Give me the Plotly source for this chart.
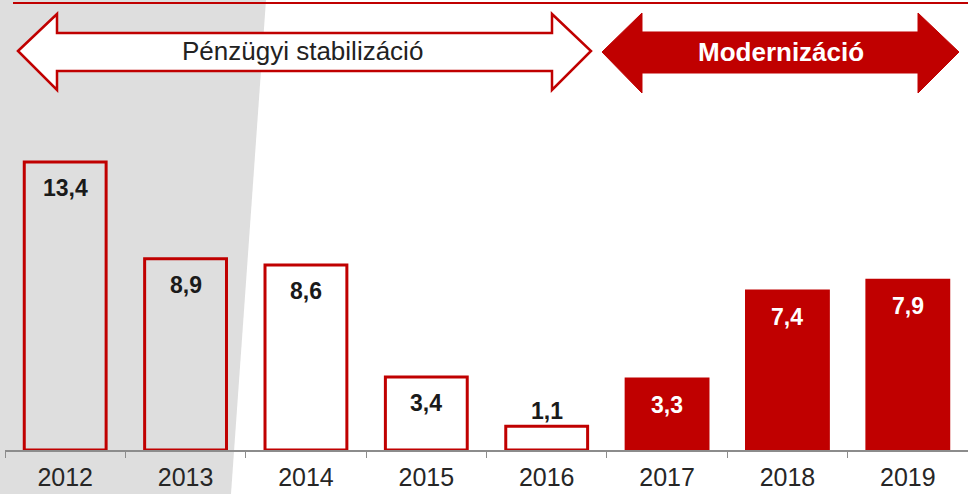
import plotly.graph_objects as go

years = ["2012", "2013", "2014", "2015", "2016", "2017", "2018", "2019"]
values = [13.4, 8.9, 8.6, 3.4, 1.1, 3.3, 7.4, 7.9]
labels = ["13,4", "8,9", "8,6", "3,4", "1,1", "3,3", "7,4", "7,9"]
filled = [False, False, False, False, False, True, True, True]
phase_left = "Pénzügyi stabilizáció"
phase_right = "Modernizáció"

RED = "#C00000"
FONT = "Arial, 'Liberation Sans', sans-serif"
W, H = 968, 494
L, R, T, B = 5, 0, 100, 44
PW, PH = W - L - R, H - T - B


def px(x):
    return (x - L) / PW


def py(y):
    return (H - B - y) / PH


def path(points):
    return "M " + " L ".join(f"{px(x):.5f},{py(y):.5f}" for x, y in points) + " Z"


fig = go.Figure()
fig.add_trace(go.Bar(
    x=years, y=values, width=0.68,
    marker=dict(
        color=[RED if f else "rgba(0,0,0,0)" for f in filled],
        line=dict(color=RED, width=3),
    ),
    hoverinfo="skip",
))

annotations = []
for i, (v, lab, f) in enumerate(zip(values, labels, filled)):
    inside = v > 2
    annotations.append(dict(
        x=i, y=v, xref="x", yref="y", text=f"<b>{lab}</b>", showarrow=False,
        xanchor="center", yanchor="middle",
        yshift=-26 if inside else 15,
        font=dict(family=FONT, size=23, color="white" if f else "#1a1a1a"),
    ))

annotations.append(dict(x=px(302), y=py(51), xref="paper", yref="paper",
                        text=phase_left, showarrow=False,
                        xanchor="center", yanchor="middle",
                        font=dict(family=FONT, size=26, color="#222222")))
annotations.append(dict(x=px(781), y=py(52), xref="paper", yref="paper",
                        text=f"<b>{phase_right}</b>", showarrow=False,
                        xanchor="center", yanchor="middle",
                        font=dict(family=FONT, size=26, color="white")))

shapes = [
    # gray background band
    dict(type="path", xref="paper", yref="paper", layer="below",
         path=path([(0, 0), (266, 0), (231, 494), (0, 494)]),
         fillcolor="#DEDEDE", line=dict(width=0)),
    # top red line
    dict(type="line", xref="paper", yref="paper",
         x0=px(13), x1=px(968), y0=py(3), y1=py(3),
         line=dict(color=RED, width=2)),
    # outline arrow
    dict(type="path", xref="paper", yref="paper",
         path=path([(18, 51), (57, 14), (57, 33), (552, 33), (552, 14), (591, 51),
                    (552, 90), (552, 71), (57, 71), (57, 90)]),
         fillcolor="white", line=dict(color=RED, width=2.5)),
    # filled arrow
    dict(type="path", xref="paper", yref="paper",
         path=path([(602, 52), (642, 13), (642, 32), (918, 32), (918, 13), (959, 52),
                    (918, 93), (918, 73), (642, 73), (642, 93)]),
         fillcolor=RED, line=dict(color=RED, width=1)),
]

fig.update_layout(
    width=W, height=H,
    margin=dict(l=L, r=R, t=T, b=B, pad=0, autoexpand=False),
    paper_bgcolor="white", plot_bgcolor="rgba(0,0,0,0)",
    showlegend=False,
    annotations=annotations, shapes=shapes,
    xaxis=dict(
        type="category", range=[-0.5, 7.5], automargin=False,
        showline=True, linecolor="#8C8C8C", linewidth=1.5,
        ticks="outside", tickson="boundaries", ticklen=6, tickcolor="#8C8C8C",
        showgrid=False, zeroline=False, ticklabelstandoff=4,
        tickfont=dict(family=FONT, size=25, color="#262626"),
    ),
    yaxis=dict(range=[0, PH / 21.5], visible=False, showgrid=False, zeroline=False,
               automargin=False),
)

fig.write_html("out.html", config={"displayModeBar": False},
               post_script="document.body.style.margin='0';document.body.style.overflow='hidden';")
